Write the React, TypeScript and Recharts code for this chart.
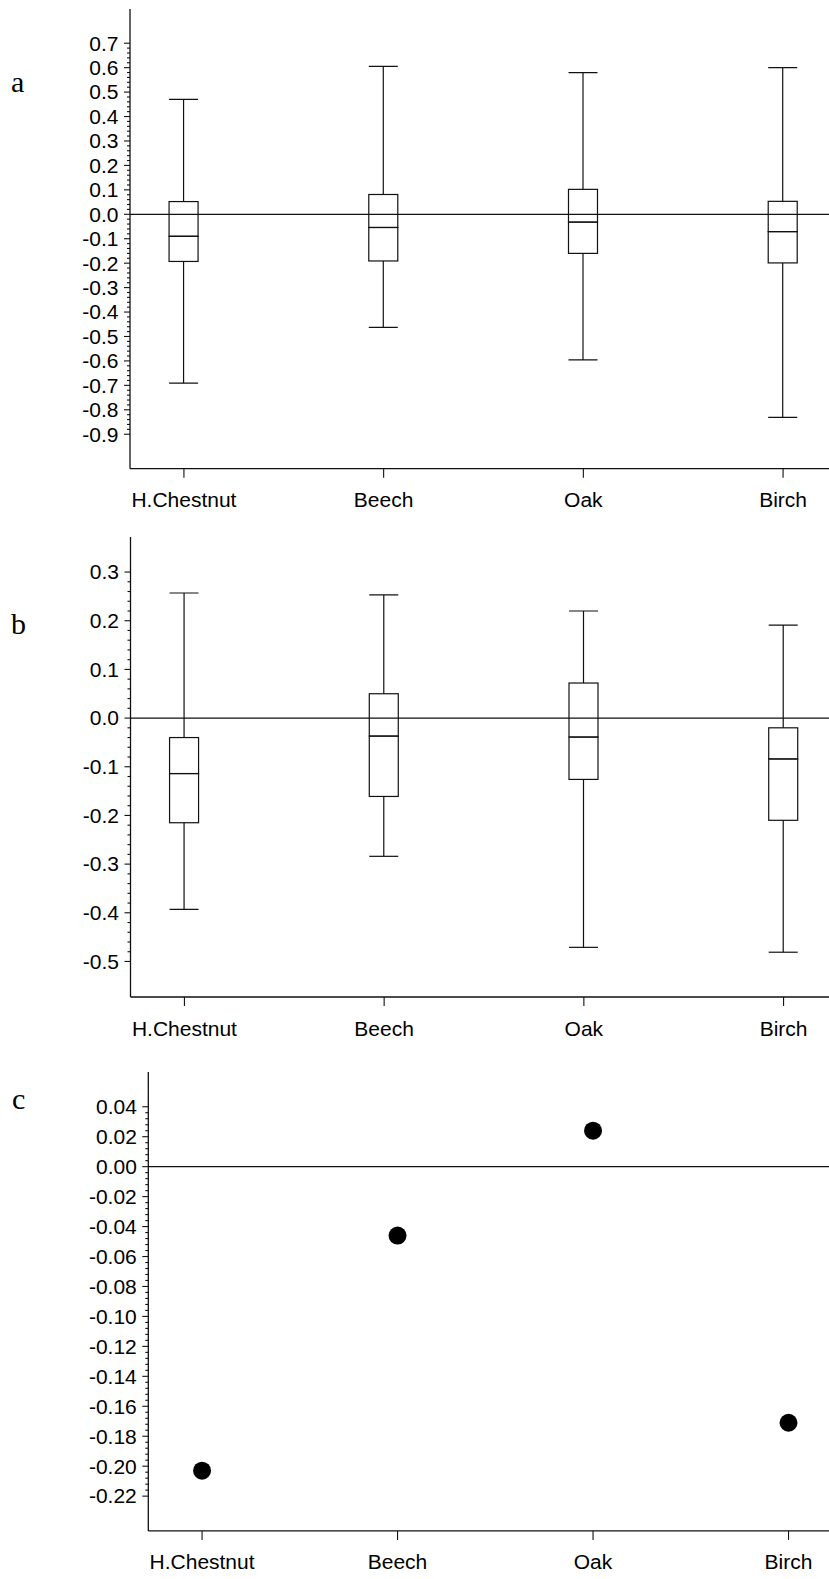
import React from 'react';
import { ComposedChart, Bar, Scatter, XAxis, YAxis, ReferenceLine } from 'recharts';

const trees = ['H.Chestnut', 'Beech', 'Oak', 'Birch'];

// panel a: distributions
const aMin = [-0.691, -0.463, -0.596, -0.831];
const aQ1 = [-0.193, -0.191, -0.16, -0.199];
const aMed = [-0.09, -0.054, -0.032, -0.071];
const aQ3 = [0.052, 0.081, 0.102, 0.053];
const aMax = [0.47, 0.605, 0.58, 0.6];
const aTicks = [0.7, 0.6, 0.5, 0.4, 0.3, 0.2, 0.1, 0, -0.1, -0.2, -0.3, -0.4, -0.5, -0.6, -0.7, -0.8, -0.9];

// panel b: distributions
const bMin = [-0.393, -0.284, -0.471, -0.481];
const bQ1 = [-0.215, -0.161, -0.126, -0.21];
const bMed = [-0.114, -0.037, -0.039, -0.084];
const bQ3 = [-0.04, 0.05, 0.072, -0.02];
const bMax = [0.257, 0.253, 0.22, 0.191];
const bTicks = [0.3, 0.2, 0.1, 0, -0.1, -0.2, -0.3, -0.4, -0.5];

// panel c: single values
const cVal = [-0.203, -0.046, 0.024, -0.171];
const cTicks = [0.04, 0.02, 0, -0.02, -0.04, -0.06, -0.08, -0.1, -0.12, -0.14, -0.16, -0.18, -0.2, -0.22];

const FONT = 'Liberation Sans, Arial, Helvetica, sans-serif';
const INK = '#111';

const range = (lo: number, hi: number, step: number) => {
  const out: number[] = [];
  const n = Math.round((hi - lo) / step);
  for (let i = 0; i <= n; i++) out.push(Math.round((lo + i * step) * 1e6) / 1e6);
  return out;
};

const boxRows = (mn: number[], q1: number[], md: number[], q3: number[], mx: number[]) =>
  trees.map((_, i) => ({
    idx: i,
    base: mn[i],
    lw: q1[i] - mn[i],
    lb: md[i] - q1[i],
    ub: q3[i] - md[i],
    uw: mx[i] - q3[i],
  }));

const norm = (p: any) => {
  const top = Math.min(p.y, p.y + p.height);
  return { x: p.x, w: p.width, top, bot: top + Math.abs(p.height) };
};

const Empty = () => <g />;

const LowWhisker = (p: any) => {
  const { x, w, top, bot } = norm(p);
  const cx = x + w / 2;
  return (
    <g stroke={INK} strokeWidth={1.2}>
      <line x1={cx} x2={cx} y1={top} y2={bot} />
      <line x1={x} x2={x + w} y1={bot} y2={bot} />
    </g>
  );
};

const HighWhisker = (p: any) => {
  const { x, w, top, bot } = norm(p);
  const cx = x + w / 2;
  return (
    <g stroke={INK} strokeWidth={1.2}>
      <line x1={cx} x2={cx} y1={top} y2={bot} />
      <line x1={x} x2={x + w} y1={top} y2={top} />
    </g>
  );
};

const BoxPart = (p: any) => {
  const { x, w, top, bot } = norm(p);
  return <rect x={x} y={top} width={w} height={bot - top} fill="none" stroke={INK} strokeWidth={1.2} />;
};

const makeYTick = (major: number[], digits: number) => (props: any) => {
  const { x, y, payload } = props;
  const isMajor = major.some((m) => Math.abs(m - payload.value) < 1e-7);
  return (
    <g>
      <line x1={x} x2={x - (isMajor ? 6 : 3)} y1={y} y2={y} stroke={INK} strokeWidth={1.1} />
      {isMajor && (
        <text x={x - 11.5} y={y} dy="0.35em" textAnchor="end" fontSize={21} fontFamily={FONT} fill="#000">
          {payload.value.toFixed(digits)}
        </text>
      )}
    </g>
  );
};

const XTick = (props: any) => {
  const { x, y, payload } = props;
  return (
    <g>
      <line x1={x} x2={x} y1={y} y2={y + 9} stroke={INK} strokeWidth={1.1} />
      <text x={x} y={y + 38.5} textAnchor="middle" fontSize={21} fontFamily={FONT} fill="#000">
        {trees[payload.value]}
      </text>
    </g>
  );
};

interface PanelProps {
  top: number;
  left: number;
  plotW: number;
  plotH: number;
  xDomain: [number, number];
  yDomain: [number, number];
  major: number[];
  minor: number[];
  digits: number;
  children: React.ReactNode;
  data: any[];
}

function Panel({ top, left, plotW, plotH, xDomain, yDomain, major, minor, digits, children, data }: PanelProps) {
  const mTop = 20;
  const xH = 60;
  return (
    <div style={{ position: 'absolute', left: 0, top: top - mTop }}>
      <ComposedChart
        width={left + plotW}
        height={mTop + plotH + xH}
        data={data}
        margin={{ top: mTop, right: 0, bottom: 0, left: 0 }}
      >
        <XAxis
          dataKey="idx"
          type="number"
          domain={xDomain}
          allowDataOverflow
          ticks={[0, 1, 2, 3]}
          interval={0}
          height={xH}
          tickSize={0}
          tickMargin={0}
          tickLine={false}
          tick={(p: any) => <XTick {...p} />}
          axisLine={{ stroke: INK, strokeWidth: 1.3 }}
        />
        <XAxis
          xAxisId="top"
          orientation="top"
          type="number"
          domain={xDomain}
          allowDataOverflow
          height={0}
          tick={false}
          tickLine={false}
          axisLine={{ stroke: INK, strokeWidth: 1.3 }}
        />
        <YAxis
          type="number"
          domain={yDomain}
          allowDataOverflow
          ticks={minor}
          interval={0}
          width={left}
          tickSize={0}
          tickMargin={0}
          tickLine={false}
          tick={makeYTick(major, digits)}
          axisLine={{ stroke: INK, strokeWidth: 1.3 }}
        />
        <ReferenceLine y={0} stroke={INK} strokeWidth={1.3} />
        {children}
      </ComposedChart>
    </div>
  );
}

const boxSeries = () => [
  <Bar key="base" dataKey="base" stackId="box" barSize={29} shape={Empty} isAnimationActive={false} />,
  <Bar key="lw" dataKey="lw" stackId="box" barSize={29} shape={LowWhisker} isAnimationActive={false} />,
  <Bar key="lb" dataKey="lb" stackId="box" barSize={29} shape={BoxPart} isAnimationActive={false} />,
  <Bar key="ub" dataKey="ub" stackId="box" barSize={29} shape={BoxPart} isAnimationActive={false} />,
  <Bar key="uw" dataKey="uw" stackId="box" barSize={29} shape={HighWhisker} isAnimationActive={false} />,
];

export default function App() {
  const aData = boxRows(aMin, aQ1, aMed, aQ3, aMax);
  const bData = boxRows(bMin, bQ1, bMed, bQ3, bMax);
  const cData = trees.map((_, i) => ({ idx: i, val: cVal[i] }));

  return (
    <div style={{ position: 'absolute', left: 0, top: 0, width: 829, height: 1579, overflow: 'hidden', background: '#fff' }}>
      <Panel
        top={9}
        left={130}
        plotW={707}
        plotH={459.7}
        xDomain={[-0.27, 3.27]}
        yDomain={[-1.041, 0.84]}
        major={aTicks}
        minor={range(-0.9, 0.7, 0.02)}
        digits={1}
        data={aData}
      >
        {boxSeries()}
      </Panel>
      <Panel
        top={536.7}
        left={130.5}
        plotW={707}
        plotH={460}
        xDomain={[-0.27, 3.27]}
        yDomain={[-0.573, 0.372]}
        major={bTicks}
        minor={range(-0.5, 0.3, 0.02)}
        digits={1}
        data={bData}
      >
        {boxSeries()}
      </Panel>
      <Panel
        top={1072.3}
        left={148.3}
        plotW={694}
        plotH={458.9}
        xDomain={[-0.275, 3.275]}
        yDomain={[-0.2432, 0.0632]}
        major={cTicks}
        minor={range(-0.22, 0.04, 0.004)}
        digits={2}
        data={cData}
      >
        <Scatter
          dataKey="val"
          fill="#000"
          isAnimationActive={false}
          shape={(p: any) => <circle cx={p.cx} cy={p.cy} r={9} fill="#000" />}
        />
      </Panel>
      <svg width={829} height={1579} style={{ position: 'absolute', left: 0, top: 0, pointerEvents: 'none' }}>
        <g fontFamily="Liberation Serif, Times New Roman, serif" fontSize={30} fill="#000">
          <text x={11} y={92}>a</text>
          <text x={11} y={634}>b</text>
          <text x={12} y={1109}>c</text>
        </g>
      </svg>
    </div>
  );
}
